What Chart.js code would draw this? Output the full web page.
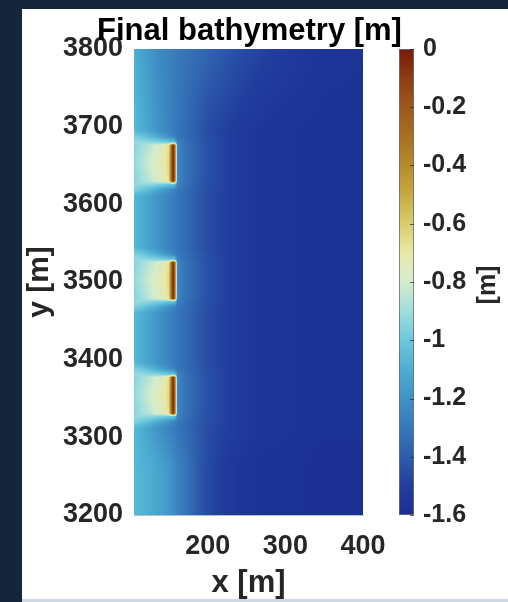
<!DOCTYPE html>
<html>
<head>
<meta charset="utf-8">
<script src="https://cdn.jsdelivr.net/npm/chart.js@4.4.1/dist/chart.umd.min.js"></script>
<style>
  html, body { margin: 0; padding: 0; width: 508px; height: 602px; overflow: hidden; background: #15263b; }
  #panel { position: absolute; left: 22px; top: 9px; width: 486px; height: 590px; background: #fff; }
  #edge { position: absolute; left: 22px; top: 599px; width: 486px; height: 3px; background: #cfd9e4; }
  canvas { display: block; }
</style>
</head>
<body>
<div id="panel"><canvas id="chart-bathy" width="486" height="590"></canvas></div>
<div id="edge"></div>
<script>
/**
 * Final bathymetry — grid, shaded like pcolor + shading interp
 */

const FONT = "'Liberation Sans', Arial, Helvetica, sans-serif";
const TITLE = "Final bathymetry [m]";

// axes
const xTicks = [200, 300, 400];
const yTicks = [3200, 3300, 3400, 3500, 3600, 3700, 3800];
const cbTicks = [-1.6, -1.4, -1.2, -1, -0.8, -0.6, -0.4, -0.2, 0];

// cross-shore grid columns [m]
const xGrid = [105, 115, 125, 135, 145, 150, 153, 155.5, 158, 161, 170, 185, 200, 220, 245, 275, 310, 350, 400];

// bed level profiles along xGrid [m]
const profTop    = [-1.09, -1.14, -1.18, -1.22, -1.25, -1.26, -1.27, -1.28, -1.28, -1.29, -1.31, -1.34, -1.37, -1.41, -1.45, -1.49, -1.53, -1.56, -1.57];
const profMid    = [-1.06, -1.10, -1.14, -1.19, -1.23, -1.25, -1.27, -1.28, -1.29, -1.31, -1.34, -1.40, -1.45, -1.49, -1.53, -1.56, -1.57, -1.58, -1.58];
const profBottom = [-1.06, -1.08, -1.10, -1.13, -1.16, -1.18, -1.20, -1.21, -1.23, -1.26, -1.30, -1.39, -1.46, -1.52, -1.56, -1.58, -1.58, -1.59, -1.59];
const profFan    = [-0.96, -1.00, -1.05, -1.11, -1.17, -1.20, -1.23, -1.25, -1.27, -1.30, -1.33, -1.39, -1.44, -1.49, -1.53, -1.56, -1.57, -1.58, -1.58];
const profTip    = [-0.92, -0.92, -0.93, -0.95, -0.98, -1.00, -1.00, -0.98, -1.05, -1.26, -1.32, -1.39, -1.44, -1.49, -1.53, -1.56, -1.57, -1.58, -1.58];
const profCore   = [-0.95, -0.90, -0.85, -0.79, -0.73, -0.66, -0.28, -0.03, -0.32, -1.24, -1.31, -1.38, -1.44, -1.49, -1.53, -1.56, -1.57, -1.58, -1.58];
const profCenter = [-0.93, -0.87, -0.81, -0.75, -0.70, -0.63, -0.26, -0.02, -0.30, -1.24, -1.31, -1.38, -1.44, -1.49, -1.53, -1.56, -1.57, -1.58, -1.58];

// alongshore grid rows [m] and which profile each row carries
const rowY = [3200, 3260, 3312, 3320, 3327, 3331, 3354, 3377, 3381, 3388, 3396,
              3460, 3468, 3475, 3479, 3502, 3525, 3529, 3536, 3544,
              3611, 3619, 3626, 3630, 3653, 3676, 3680, 3687, 3695, 3800];
const rowKind = ["bottom", "bottom", "mid", "fan", "tip", "core", "center", "core", "tip", "fan", "mid",
                 "mid", "fan", "tip", "core", "center", "core", "tip", "fan", "mid",
                 "mid", "fan", "tip", "core", "center", "core", "tip", "fan", "mid", "top"];

// colormap stops: value [m] -> rgb
const cmapValues = [-1.6, -1.5, -1.4, -1.3, -1.2, -1.1, -1.0, -0.9, -0.8, -0.7, -0.6, -0.5, -0.4, -0.3, -0.2, -0.1, 0];
const cmapColors = [
  [27, 46, 146], [33, 62, 158], [45, 92, 172], [55, 120, 186], [63, 146, 198], [78, 173, 210],
  [108, 200, 220], [160, 222, 222], [212, 236, 205], [232, 232, 168], [218, 205, 108], [198, 170, 65],
  [182, 140, 42], [168, 112, 32], [158, 88, 28], [142, 60, 20], [122, 26, 8]
];

const profiles = { top: profTop, mid: profMid, bottom: profBottom, fan: profFan, tip: profTip, core: profCore, center: profCenter };
const zGrid = rowKind.map((k) => profiles[k]);

function findCell(arr, v) {
  if (v <= arr[0]) return [0, 0];
  for (let i = 0; i < arr.length - 1; i++) {
    if (v <= arr[i + 1]) return [i, (v - arr[i]) / (arr[i + 1] - arr[i])];
  }
  return [arr.length - 2, 1];
}

function colorFor(v) {
  const [i, t] = findCell(cmapValues, Math.max(-1.6, Math.min(0, v)));
  const a = cmapColors[i], b = cmapColors[i + 1];
  return [a[0] + (b[0] - a[0]) * t, a[1] + (b[1] - a[1]) * t, a[2] + (b[2] - a[2]) * t];
}

const heatmapPlugin = {
  id: "heatmap",
  beforeDatasetsDraw(chart) {
    const { ctx, chartArea: area, scales } = chart;
    const w = Math.round(area.right - area.left);
    const h = Math.round(area.bottom - area.top);
    const off = document.createElement("canvas");
    off.width = w;
    off.height = h;
    const octx = off.getContext("2d");
    const img = octx.createImageData(w, h);

    const cols = [];
    for (let px = 0; px < w; px++) cols.push(findCell(xGrid, scales.x.getValueForPixel(area.left + px + 0.5)));

    for (let py = 0; py < h; py++) {
      const [j, u] = findCell(rowY, scales.y.getValueForPixel(area.top + py + 0.5));
      const r0 = zGrid[j], r1 = zGrid[j + 1];
      for (let px = 0; px < w; px++) {
        const [i, t] = cols[px];
        const z0 = r0[i] + (r0[i + 1] - r0[i]) * t;
        const z1 = r1[i] + (r1[i + 1] - r1[i]) * t;
        const c = colorFor(z0 + (z1 - z0) * u);
        const k = (py * w + px) * 4;
        img.data[k] = c[0];
        img.data[k + 1] = c[1];
        img.data[k + 2] = c[2];
        img.data[k + 3] = 255;
      }
    }
    octx.putImageData(img, 0, 0);
    ctx.drawImage(off, area.left, area.top);
  },
  afterDraw(chart) {
    // title sits over the axes box, wider than it (MATLAB style)
    const { ctx, chartArea: area } = chart;
    ctx.save();
    ctx.fillStyle = "#000";
    ctx.font = `bold 31px ${FONT}`;
    ctx.textAlign = "center";
    ctx.textBaseline = "alphabetic";
    ctx.fillText(TITLE, (area.left + area.right) / 2 + 1, area.top - 9);
    ctx.restore();
  },
};

const colorbarPlugin = {
  id: "colorbar",
  afterDraw(chart) {
    const { ctx, chartArea: area, scales } = chart;
    const cb = scales.cb;
    const top = cb.getPixelForValue(0);
    const bottom = cb.getPixelForValue(-1.6);
    const left = area.right + 36;
    const width = 15;

    const grad = ctx.createLinearGradient(0, bottom, 0, top);
    cmapValues.forEach((v, i) => {
      const c = cmapColors[i];
      grad.addColorStop((v + 1.6) / 1.6, `rgb(${c[0]},${c[1]},${c[2]})`);
    });
    ctx.save();
    ctx.fillStyle = grad;
    ctx.fillRect(left, top, width, bottom - top);
    ctx.strokeStyle = "rgba(110,110,110,0.8)";
    ctx.lineWidth = 1;
    ctx.strokeRect(left + 0.5, top + 0.5, width - 1, bottom - top - 1);

    ctx.strokeStyle = "rgba(40,40,40,0.7)";
    cbTicks.forEach((v) => {
      const py = Math.round(cb.getPixelForValue(v)) + 0.5;
      ctx.beginPath();
      ctx.moveTo(left + width - 4, py);
      ctx.lineTo(left + width, py);
      ctx.stroke();
    });

    ctx.translate(area.right + 125, (top + bottom) / 2 + 3);
    ctx.rotate(-Math.PI / 2);
    ctx.fillStyle = "#262626";
    ctx.font = `bold 25px ${FONT}`;
    ctx.textAlign = "center";
    ctx.textBaseline = "middle";
    ctx.fillText("[m]", 0, 0);
    ctx.restore();
  },
};

const tickFont = (size) => ({ family: FONT, size, weight: "bold" });
const fmt = (v) => String(Number(v.toFixed(1)));
// vertical scales add tick padding to their top/bottom overflow; keep only the half label height
const trimPadding = (s) => { s.paddingTop = 16; s.paddingBottom = 16; };

new Chart(document.getElementById("chart-bathy"), {
  type: "scatter",
  data: { datasets: [] },
  options: {
    responsive: false,
    animation: false,
    layout: { padding: { top: 40, left: 0, right: 0, bottom: 0 } },
    plugins: {
      legend: { display: false },
      tooltip: { enabled: false },
      title: { display: false },
    },
    scales: {
      x: {
        type: "linear",
        min: 105,
        max: 400,
        grid: { display: false, drawTicks: false },
        border: { display: true, color: "#b8c0c6" },
        afterBuildTicks: (s) => { s.ticks = xTicks.map((v) => ({ value: v })); },
        afterFit: (s) => { s.height = 84; },
        ticks: { color: "#262626", font: tickFont(27), padding: 15, maxRotation: 0, callback: (v) => fmt(v) },
        title: { display: true, text: "x [m]", color: "#262626", font: { family: FONT, size: 31, weight: "bold", lineHeight: 1.0 }, padding: 0 },
      },
      y: {
        type: "linear",
        min: 3200,
        max: 3800,
        grid: { display: false, drawTicks: false },
        border: { display: true, color: "#b8c0c6" },
        afterBuildTicks: (s) => { s.ticks = yTicks.map((v) => ({ value: v })); },
        afterFit: (s) => { s.width = 112; trimPadding(s); },
        ticks: { color: "#262626", font: tickFont(27), padding: 11, callback: (v) => fmt(v) },
        title: { display: true, text: "y [m]", color: "#262626", font: { family: FONT, size: 30, weight: "bold", lineHeight: 1.2 }, padding: 0 },
      },
      cb: {
        type: "linear",
        position: "right",
        min: -1.6,
        max: 0,
        grid: { display: false, drawTicks: false },
        border: { display: false },
        afterBuildTicks: (s) => { s.ticks = cbTicks.map((v) => ({ value: v })); },
        afterFit: (s) => { s.width = 145; trimPadding(s); },
        ticks: { color: "#262626", font: tickFont(25), padding: 60, callback: (v) => fmt(v) },
      },
    },
  },
  plugins: [heatmapPlugin, colorbarPlugin],
});
</script>
</body>
</html>
